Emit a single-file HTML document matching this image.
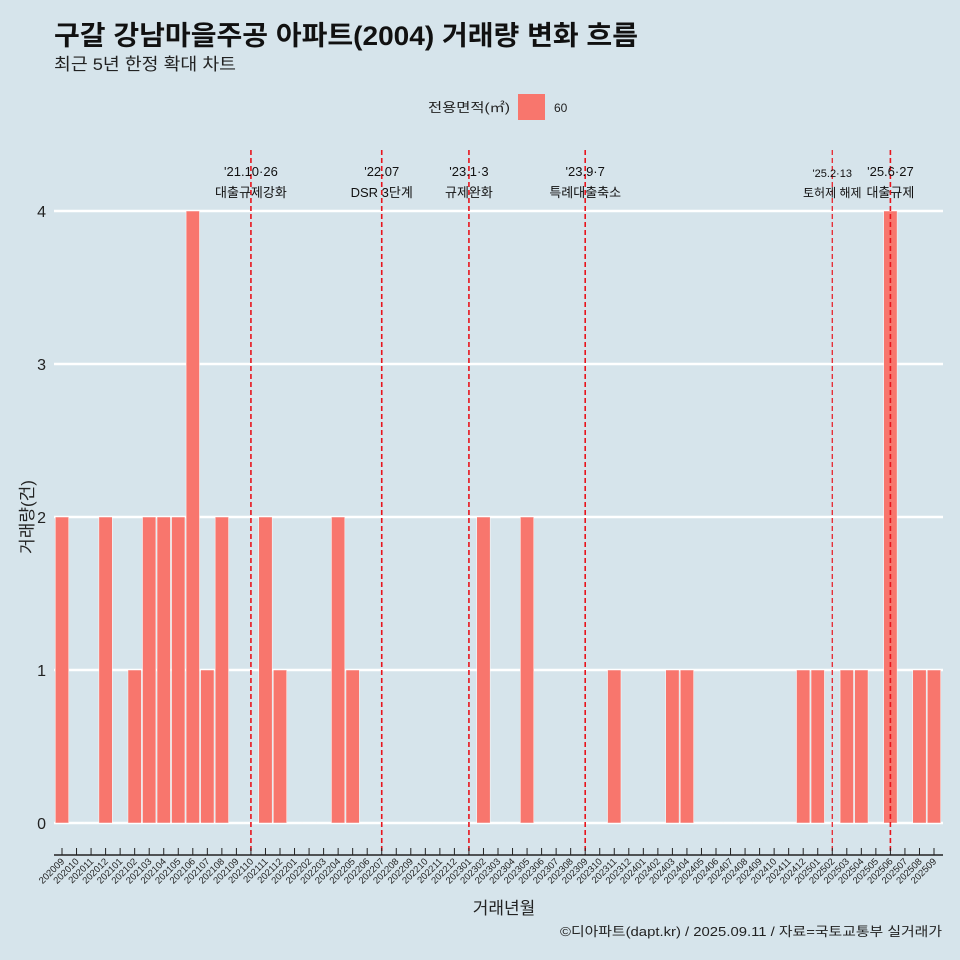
<!DOCTYPE html>
<html><head><meta charset="utf-8"><style>
body{margin:0;background:#d6e4eb;}
svg{display:block;font-family:"Liberation Sans","Noto Sans CJK KR",sans-serif;}
</style></head><body>
<svg id="chart" width="960" height="960" viewBox="0 0 960 960">
<rect x="0" y="0" width="960" height="960" fill="#d6e4eb"/>
<text x="54" y="45" font-size="27" font-weight="bold" fill="#111" textLength="584" lengthAdjust="spacingAndGlyphs">구갈 강남마을주공 아파트(2004) 거래량 변화 흐름</text>
<text x="54" y="70" font-size="17" fill="#222" textLength="182" lengthAdjust="spacingAndGlyphs">최근 5년 한정 확대 차트</text>
<g>
<text x="510" y="112" font-size="13" text-anchor="end" fill="#222" textLength="82" lengthAdjust="spacingAndGlyphs">전용면적(㎡)</text>
<rect x="518" y="94" width="27" height="26" fill="#f8766d"/>
<text x="554" y="112" font-size="12" fill="#222">60</text>
</g>
<g id="grid"></g>
<g id="bars"></g>
<g id="events"></g>
<g id="axes"></g>
<text x="504" y="914" font-size="17" text-anchor="middle" fill="#222">거래년월</text>
<text x="0" y="0" font-size="17" text-anchor="middle" fill="#222" transform="translate(33,517) rotate(-90)">거래량(건)</text>
<text x="942" y="936" font-size="13" text-anchor="end" fill="#222" textLength="382" lengthAdjust="spacingAndGlyphs">©디아파트(dapt.kr) / 2025.09.11 / 자료=국토교통부 실거래가</text>
</svg>
<script>
const months = ["202009","202010","202011","202012","202101","202102","202103","202104","202105","202106","202107","202108","202109","202110","202111","202112","202201","202202","202203","202204","202205","202206","202207","202208","202209","202210","202211","202212","202301","202302","202303","202304","202305","202306","202307","202308","202309","202310","202311","202312","202401","202402","202403","202404","202405","202406","202407","202408","202409","202410","202411","202412","202501","202502","202503","202504","202505","202506","202507","202508","202509"];
const counts = [2,0,0,2,0,1,2,2,2,4,1,2,0,0,2,1,0,0,0,2,1,0,0,0,0,0,0,0,0,2,0,0,2,0,0,0,0,0,1,0,0,0,1,1,0,0,0,0,0,0,0,1,1,0,1,1,0,4,0,1,1];
const yTicks = [0,1,2,3,4];
const eventMonths = ["202110","202207","202301","202309","202502","202506"];
const eventDates = ["'21.10·26","'22.07","'23.1·3","'23.9·7","'25.2·13","'25.6·27"];
const eventLabels = ["대출규제강화","DSR 3단계","규제완화","특례대출축소","토허제 해제","대출규제"];

const NS="http://www.w3.org/2000/svg";
function mk(tag,attrs,parent){const e=document.createElementNS(NS,tag);for(const k in attrs)e.setAttribute(k,attrs[k]);parent.appendChild(e);return e;}
const x0=62, step=(934-62)/60, bw=13.4;
const xs=i=>x0+i*step;
const xm=m=>xs(months.indexOf(m));
const ys=v=>823-v*153;
const grid=document.getElementById('grid'), bars=document.getElementById('bars'), ev=document.getElementById('events'), ax=document.getElementById('axes');
yTicks.forEach(t=>{
  const l=mk('line',{x1:54,x2:943,y1:ys(t),y2:ys(t),stroke:'#fff','stroke-width':2.6},grid);
  
  
  const tx=mk('text',{x:46,y:ys(t)+6,'font-size':16,'text-anchor':'end',fill:'#222'},ax);
  tx.textContent=t;
  
  
});
counts.forEach((v,i)=>{
  const h=Math.max(v*153,0.5);
  const r=mk('rect',{x:xs(i)-bw/2,y:ys(v)-(v?0:0.5),width:bw,height:h,fill:'#f8766d',stroke:'#fff','stroke-width':0.5},bars);
  
  
});
eventMonths.forEach((m,i)=>{
  const x=xm(m);
  const small=(m==="202502");
  const l=mk('line',{x1:x,x2:x,y1:150,y2:855,stroke:'#e8141c','stroke-width':small?1.2:1.6,'stroke-dasharray':'5,3'},ev);
  
  
  const t1=mk('text',{x:x,y:small?177:176,'font-size':small?11:13,'text-anchor':'middle',fill:'#111'},ev);
  t1.textContent=eventDates[i];
  
  
  const t2=mk('text',{x:x,y:197,'font-size':small?12:13,'text-anchor':'middle',fill:'#111'},ev);
  t2.textContent=eventLabels[i];
  
  
});
const al=mk('line',{x1:54,x2:943,y1:855,y2:855,stroke:'#222','stroke-width':1.5},ax);


months.forEach((m,i)=>{
  const x=xs(i);
  const tk=mk('line',{x1:x,x2:x,y1:848,y2:855,stroke:'#222','stroke-width':1},ax);
  
  
  const t=mk('text',{x:0,y:0,'font-size':9.5,'text-anchor':'end',fill:'#222',transform:`translate(${x+3},${862}) rotate(-45)`},ax);
  t.textContent=m;
  
  
});
</script>
</body></html>
